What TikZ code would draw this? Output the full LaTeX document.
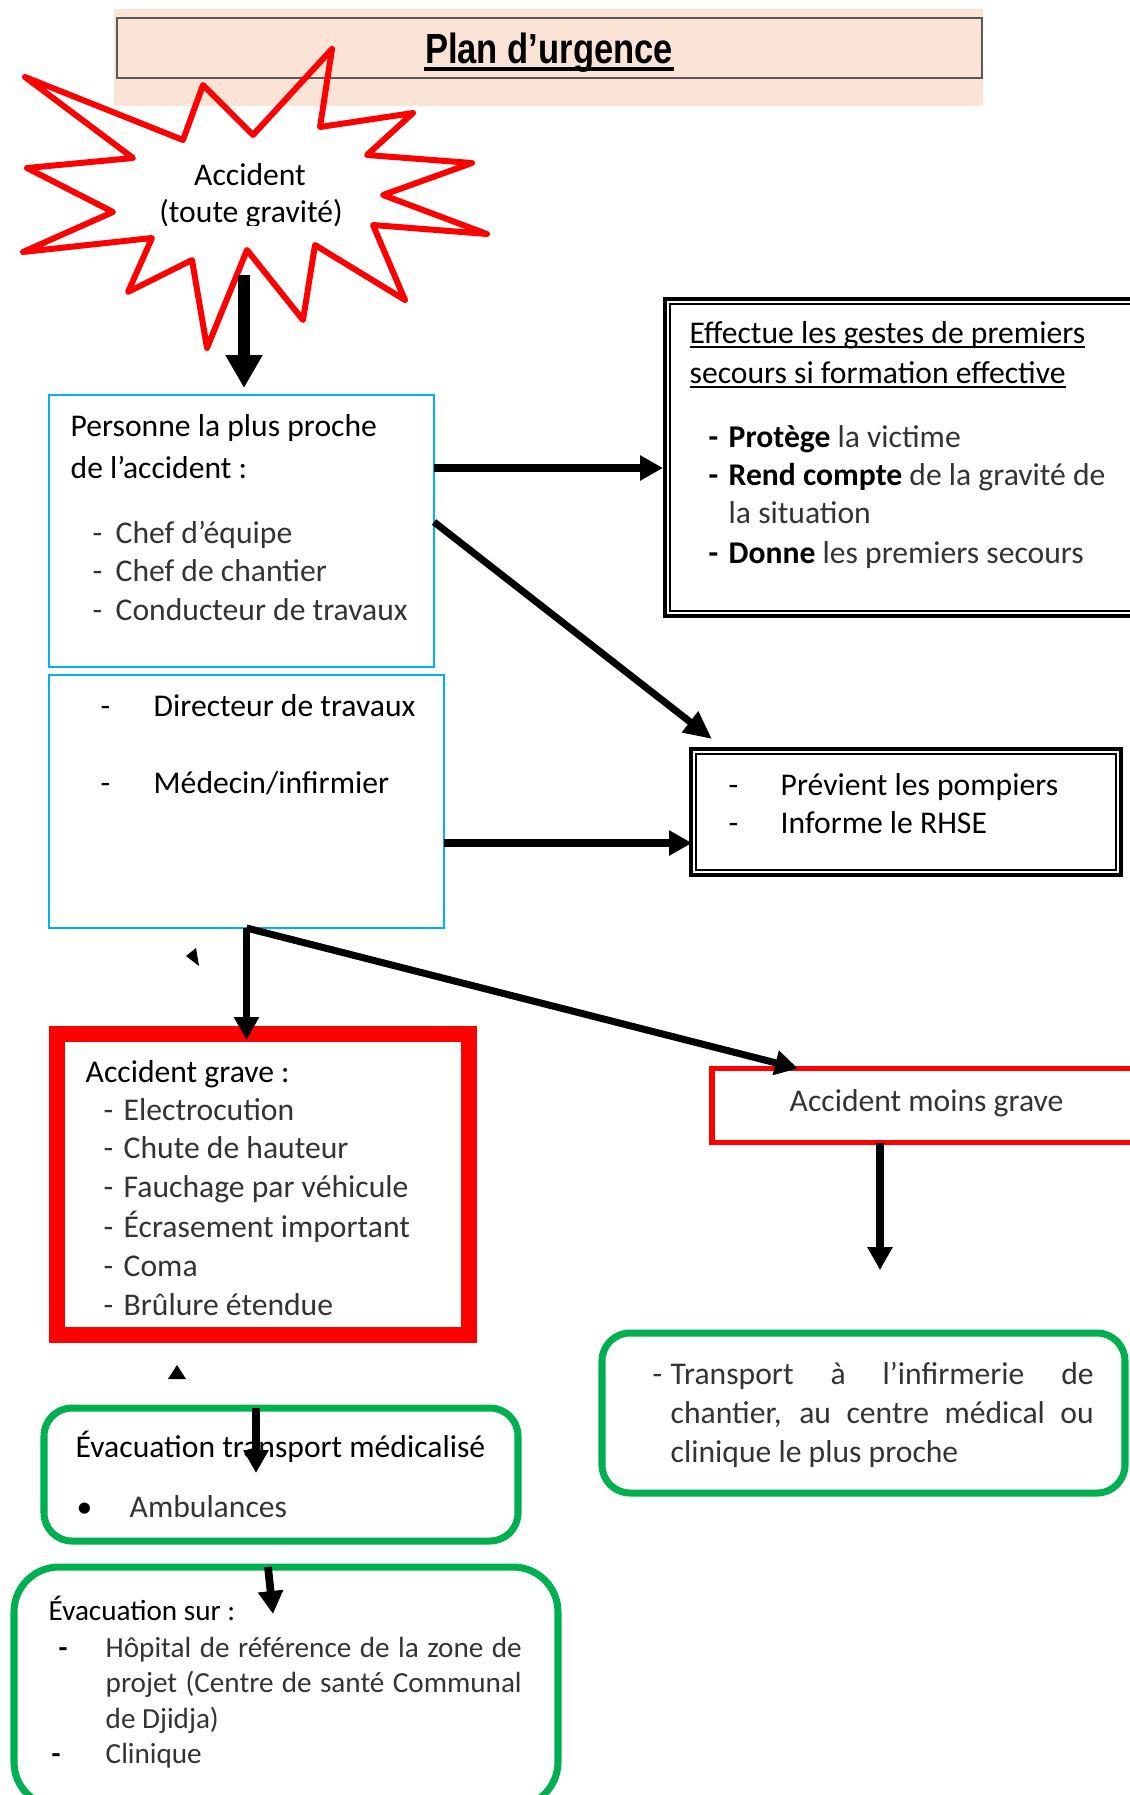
\documentclass[tikz,border=0pt]{standalone}
\usepackage{fontspec}
\setmainfont{Carlito}
\newfontfamily\titrefont[FakeStretch=0.82]{Liberation Sans}
\usetikzlibrary{arrows.meta,calc}

\definecolor{peche}{HTML}{FBE4D5}
\definecolor{bleuclair}{HTML}{00B0F0}
\definecolor{vert}{HTML}{00B050}
\definecolor{grisfonce}{HTML}{595959}

\newcommand{\souligne}[1]{\setbox0=\hbox{#1}\rlap{\rule[-0.17em]{\wd0}{0.06em}}\box0}
\newcommand{\clair}[1]{\textcolor{black!80}{#1}}

\tikzset{
  txt/.style={inner sep=0pt, anchor=base west, font=\fontsize{9}{11}\selectfont},
  petit/.style={txt, font=\fontsize{8.3}{10}\selectfont},
  leger/.style={text=black!80},
  cadre/.style={anchor=north west, inner sep=0pt, outer sep=0pt},
  bleu/.style={cadre, draw=bleuclair, line width=0.6pt},
  rouge/.style={cadre, draw=red},
  vertarrondi/.style={cadre, draw=vert, line width=2pt, rounded corners=0.28cm},
  fleche/.style={line width=2.2pt, -{Triangle[length=0.23cm,width=0.24cm]}},
  grossefleche/.style={line width=3.4pt, -{Triangle[length=0.33cm,width=0.35cm]}}
}

\begin{document}
\begin{tikzpicture}
\clip (0,0) rectangle (11.30,-17.95);

% bandeau du titre
\fill[peche] (1.14,-0.09) rectangle (9.83,-1.06);
\node[cadre, draw=grisfonce, line width=0.6pt, minimum width=8.65cm, minimum height=0.60cm] (titre) at (1.17,-0.18) {};
\node[inner sep=0pt, anchor=base, font=\titrefont\bfseries\fontsize{12}{14}\selectfont] (titretexte) at (5.49,-0.633) {Plan d’urgence};
\draw[line width=1.1pt] ($(titretexte.base west)+(0,-0.057)$) -- ($(titretexte.base east)+(0,-0.057)$);

% etoile
\draw[red, line width=1.7pt, line join=round] (3.32,-0.49) -- (3.20,-1.27) -- (4.13,-1.13) -- (3.67,-1.55) -- (4.72,-1.63)
  -- (3.83,-1.95) -- (4.87,-2.34) -- (3.73,-2.25) -- (4.05,-3.00) -- (3.15,-2.45) -- (3.03,-3.20)
  -- (2.47,-2.50) -- (2.07,-3.48) -- (1.92,-2.60) -- (1.28,-2.92) -- (1.52,-2.38) -- (0.23,-2.52)
  -- (1.13,-2.12) -- (0.27,-1.68) -- (1.33,-1.58) -- (0.25,-0.77) -- (1.83,-1.40) -- (2.03,-0.85)
  -- (2.53,-1.35) -- cycle;
\node[txt, anchor=base] (accident) at (2.50,-1.85) {Accident};
\begin{scope}
  \clip (0,-0.5) rectangle (5,-2.25);
  \node[txt, anchor=base] (gravite) at (2.51,-2.22) {(toute gravité)};
\end{scope}

% boites
\node[bleu, minimum width=3.85cm, minimum height=2.72cm] (personne) at (0.49,-3.95) {};
\node[bleu, minimum width=3.95cm, minimum height=2.53cm] (directeur) at (0.49,-6.75) {};
\node[cadre, draw, line width=1.1pt, minimum width=4.77cm, minimum height=3.17cm] (effectue) at (6.65,-2.99) {};
\node[cadre, draw, line width=1.1pt, minimum width=4.30cm, minimum height=1.26cm] (previent) at (6.91,-7.49) {};
\foreach \b in {effectue, previent}
  \draw[line width=0.45pt] ($(\b.north west)+(0.05,-0.05)$) rectangle ($(\b.south east)+(-0.05,0.05)$);
\node[rouge, line width=4.55pt, minimum width=4.12cm, minimum height=3.01cm] (grave) at (0.57,-10.34) {};
\node[rouge, line width=1.6pt, minimum width=4.40cm, minimum height=0.74cm] (moins) at (7.12,-10.685) {};
\node[vertarrondi, minimum width=5.23cm, minimum height=1.60cm] (transport) at (6.02,-13.33) {};
\node[vertarrondi, minimum width=4.74cm, minimum height=1.33cm] (evacuation) at (0.44,-14.08) {};
\node[vertarrondi, rounded corners=0.45cm, minimum width=5.44cm, minimum height=2.40cm] (evacsur) at (0.14,-15.67) {};

% textes
\node[txt] (personne-titre) at (0.70,-4.36) {Personne la plus proche};
\node[txt] (personne-suite) at (0.70,-4.78) {de l’accident :};
\foreach \nom/\y [count=\i] in {Chef d’équipe/5.43, Chef de chantier/5.81, Conducteur de travaux/6.20}{
  \node[txt, leger] (chef-tiret\i) at (0.92,-\y) {-};
  \node[txt, leger] (chef-\i) at (1.15,-\y) {\nom};
}
\node[txt] (directeur-tiret1) at (1.00,-7.16) {-};
\node[txt] (directeur-1) at (1.53,-7.16) {Directeur de travaux};
\node[txt] (directeur-tiret2) at (1.00,-7.93) {-};
\node[txt] (directeur-2) at (1.53,-7.93) {Médecin/infirmier};

\node[txt] (effectue-l1) at (6.89,-3.43) {\souligne{Effectue les gestes de premiers}};
\node[txt] (effectue-l2) at (6.89,-3.83) {\souligne{secours si formation effective}};
\foreach \texte/\y [count=\i] in {{\textbf{Protège} \clair{la victime}}/4.47, {\textbf{Rend compte} \clair{de la gravité de}}/4.85, {\textbf{Donne} \clair{les premiers secours}}/5.63}{
  \node[txt] (geste-tiret\i) at (7.08,-\y) {\textbf{-}};
  \node[txt] (geste-\i) at (7.28,-\y) {\texte};
}
\node[txt, leger] (geste-suite) at (7.28,-5.23) {la situation};

\node[txt] (alerte-tiret1) at (7.28,-7.95) {-};
\node[txt] (alerte-1) at (7.80,-7.95) {Prévient les pompiers};
\node[txt] (alerte-tiret2) at (7.28,-8.33) {-};
\node[txt] (alerte-2) at (7.80,-8.33) {Informe le RHSE};

\node[txt] (grave-titre) at (0.85,-10.82) {Accident grave :};
\foreach \cas/\y [count=\i] in {Electrocution/11.20, Chute de hauteur/11.58, Fauchage par véhicule/11.97, Écrasement important/12.37, Coma/12.76, Brûlure étendue/13.15}{
  \node[txt, leger] (grave-tiret\i) at (1.03,-\y) {-};
  \node[txt, leger] (grave-\i) at (1.23,-\y) {\cas};
}
\node[txt, leger] (moins-texte) at (7.89,-11.11) {Accident moins grave};

\node[txt, leger] (transport-tiret) at (6.52,-13.84) {-};
\node[txt, leger] (transport-l1) at (6.70,-13.84) {\makebox[4.23cm][s]{Transport à l’infirmerie de}};
\node[txt, leger] (transport-l2) at (6.70,-14.23) {\makebox[4.23cm][s]{chantier, au centre médical ou}};
\node[txt, leger] (transport-l3) at (6.70,-14.62) {clinique le plus proche};

\node[txt] (evacuation-titre) at (0.75,-14.57) {Évacuation transport médicalisé};
\node[txt] (puce) at (0.76,-15.17) {•};
\node[txt, leger] (ambulances) at (1.29,-15.17) {Ambulances};

\node[petit] (sur-titre) at (0.48,-16.20) {Évacuation sur :};
\node[petit] (sur-tiret1) at (0.58,-16.57) {\textbf{-}};
\node[petit, leger] (sur-l1) at (1.05,-16.57) {\makebox[4.16cm][s]{Hôpital de référence de la zone de}};
\node[petit, leger] (sur-l2) at (1.05,-16.92) {\makebox[4.16cm][s]{projet (Centre de santé Communal}};
\node[petit, leger] (sur-l3) at (1.05,-17.28) {de Djidja)};
\node[petit] (sur-tiret2) at (0.51,-17.63) {\textbf{-}};
\node[petit, leger] (sur-l4) at (1.05,-17.63) {Clinique};

% fleches
\coordinate (etoile) at (2.44,-2.75);
\draw[grossefleche] (etoile) -- ([xshift=0.025cm,yshift=0.07cm]personne.north);
\draw[fleche] ([yshift=0.63cm]personne.east) -- ([xshift=-0.02cm,yshift=-0.105cm]effectue.west);
\draw[fleche, line width=2pt, -{Triangle[length=0.28cm,width=0.25cm]}] ([yshift=0.09cm]personne.east) -- ([xshift=0.21cm,yshift=0.10cm]previent.north west);
\draw[fleche] ([yshift=-0.415cm]directeur.east) -- ([xshift=0.01cm,yshift=-0.31cm]previent.west);
\draw[fleche, line width=1.8pt] (directeur.south) -- ($(grave.north -| directeur.south)+(0,-0.06)$);
\draw[fleche, line width=2pt] (directeur.south) -- ([xshift=0.86cm]moins.north west);
\coordinate (versclinique) at (8.80,-12.70);
\draw[fleche] (moins.south -| versclinique) -- (versclinique);
\coordinate (versambulance) at (2.56,-14.73);
\draw[fleche] (evacuation.north -| versambulance) -- (versambulance);
\coordinate (depart) at (2.68,-15.71);
\coordinate (verssur) at (2.73,-16.14);
\draw[fleche] (evacsur.north -| depart) -- (verssur);

% pointes isolees
\fill (1.86,-9.56) -- (1.96,-9.48) -- (1.99,-9.66) -- cycle;
\fill (1.68,-13.79) -- (1.77,-13.65) -- (1.86,-13.79) -- cycle;
\end{tikzpicture}
\end{document}
